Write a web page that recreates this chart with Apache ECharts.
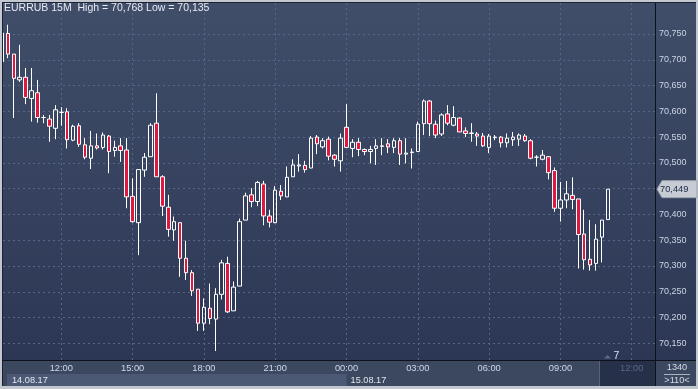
<!DOCTYPE html>
<html><head><meta charset="utf-8">
<script src="https://cdn.jsdelivr.net/npm/echarts@6/dist/echarts.min.js"></script>
<style>html,body{margin:0;padding:0;background:#2c3654}#c{width:698px;height:389px}</style>
</head><body><div id="c"></div>
<script>
// ---- data (15-minute bars, 14.08.17 09:30 -> 15.08.17 11:00) ----
const times = ['09:30','09:45','10:00','10:15','10:30','10:45','11:00','11:15','11:30','11:45',
 '12:00','12:15','12:30','12:45','13:00','13:15','13:30','13:45','14:00','14:15','14:30','14:45',
 '15:00','15:15','15:30','15:45','16:00','16:15','16:30','16:45','17:00','17:15','17:30','17:45',
 '18:00','18:15','18:30','18:45','19:00','19:15','19:30','19:45','20:00','20:15','20:30','20:45',
 '21:00','21:15','21:30','21:45','22:00','22:15','22:30','22:45','23:00','23:15','23:30','23:45',
 '00:00','00:15','00:30','00:45','01:00','01:15','01:30','01:45','02:00','02:15','02:30','02:45',
 '03:00','03:15','03:30','03:45','04:00','04:15','04:30','04:45','05:00','05:15','05:30','05:45',
 '06:00','06:15','06:30','06:45','07:00','07:15','07:30','07:45','08:00','08:15','08:30','08:45',
 '09:00','09:15','09:30','09:45','10:00','10:15','10:30','10:45','11:00'];
const opens = [70.696,70.751,70.711,70.661,70.666,70.625,70.636,70.588,70.585,70.567,
 70.598,70.599,70.544,70.572,70.535,70.509,70.533,70.530,70.552,70.524,70.533,70.525,
 70.435,70.384,70.486,70.512,70.577,70.473,70.414,70.370,70.384,70.315,70.287,70.255,
 70.189,70.218,70.197,70.245,70.305,70.213,70.261,70.389,70.438,70.425,70.459,70.397,
 70.384,70.445,70.434,70.473,70.494,70.495,70.490,70.550,70.531,70.546,70.515,70.504,
 70.569,70.528,70.540,70.526,70.522,70.528,70.532,70.537,70.530,70.543,70.517,70.520,
 70.522,70.576,70.620,70.575,70.556,70.595,70.573,70.587,70.562,70.557,70.556,70.552,
 70.530,70.549,70.550,70.539,70.545,70.546,70.552,70.543,70.511,70.507,70.512,70.485,
 70.412,70.428,70.437,70.430,70.362,70.313,70.305,70.356,70.390];
const closes = [70.752,70.711,70.664,70.666,70.627,70.640,70.588,70.588,70.571,70.603,
 70.598,70.545,70.571,70.536,70.511,70.533,70.529,70.554,70.522,70.530,70.524,70.434,
 70.386,70.487,70.511,70.573,70.473,70.416,70.371,70.386,70.315,70.287,70.252,70.189,
 70.220,70.198,70.245,70.306,70.211,70.259,70.386,70.436,70.425,70.462,70.397,70.385,
 70.447,70.436,70.472,70.496,70.496,70.487,70.548,70.537,70.543,70.513,70.507,70.548,
 70.530,70.540,70.526,70.522,70.526,70.533,70.533,70.531,70.543,70.517,70.519,70.521,
 70.575,70.620,70.576,70.554,70.593,70.577,70.588,70.560,70.557,70.558,70.552,70.533,
 70.552,70.550,70.539,70.548,70.550,70.554,70.543,70.509,70.511,70.515,70.481,70.412,
 70.428,70.440,70.429,70.361,70.312,70.302,70.352,70.389,70.449];
const lows = [70.696,70.703,70.587,70.657,70.614,70.580,70.578,70.577,70.541,70.546,
 70.572,70.528,70.542,70.531,70.507,70.488,70.526,70.526,70.480,70.512,70.502,70.412,
 70.384,70.321,70.473,70.512,70.473,70.397,70.357,70.349,70.279,70.273,70.242,70.174,
 70.174,70.187,70.135,70.235,70.209,70.213,70.261,70.389,70.414,70.416,70.379,70.375,
 70.383,70.428,70.434,70.473,70.483,70.481,70.490,70.517,70.528,70.505,70.493,70.483,
 70.530,70.511,70.513,70.515,70.499,70.496,70.515,70.519,70.519,70.496,70.499,70.489,
 70.522,70.554,70.552,70.548,70.552,70.573,70.571,70.560,70.550,70.541,70.533,70.531,
 70.519,70.544,70.530,70.530,70.533,70.533,70.541,70.507,70.493,70.505,70.468,70.405,
 70.386,70.412,70.410,70.295,70.293,70.291,70.291,70.307,70.390];
const highs = [70.752,70.768,70.711,70.729,70.684,70.684,70.661,70.593,70.593,70.612,
 70.608,70.606,70.574,70.577,70.548,70.562,70.557,70.559,70.554,70.543,70.548,70.548,
 70.470,70.487,70.519,70.577,70.635,70.476,70.438,70.396,70.384,70.349,70.292,70.255,
 70.237,70.266,70.257,70.312,70.318,70.270,70.392,70.442,70.451,70.465,70.465,70.409,
 70.455,70.457,70.493,70.507,70.517,70.504,70.552,70.554,70.548,70.551,70.517,70.557,
 70.614,70.546,70.548,70.528,70.533,70.546,70.548,70.546,70.548,70.548,70.548,70.528,
 70.580,70.623,70.622,70.582,70.596,70.612,70.610,70.588,70.569,70.577,70.560,70.558,
 70.556,70.554,70.552,70.557,70.560,70.557,70.556,70.546,70.515,70.525,70.513,70.491,
 70.463,70.465,70.472,70.430,70.409,70.389,70.381,70.389,70.449];
const timeTicks = ['12:00','15:00','18:00','21:00','00:00','03:00','06:00','09:00','12:00'];
const priceTicks = [70.15, 70.75];           // first / last labelled price, step 0.05
const dateLabels = ['14.08.17', '15.08.17'];
const symbolName = 'EURRUB 15M';

// ---- layout ----
const W = 698, H = 389;
const PL = 3, PR = 655, PT = 3, PB = 360;
const SLOT = 5.942;           // px per 15-minute slot
const X12 = 61.3;             // px of first 12:00 slot
const FIRST_TICK_SLOT = 10;   // index of 12:00 in times
const PX_PER_STEP = 25.775;   // px per 0.05
const Y_TOP_LBL = 34, Y_BOT_LBL = 343.3;
const STEP = 0.05;
const TICK_SLOTS = 12;        // 3 hours

const xMinA = FIRST_TICK_SLOT - (X12 - PL) / SLOT;
const xMaxA = FIRST_TICK_SLOT + (PR - X12) / SLOT;
const yMaxA = priceTicks[1] + (Y_TOP_LBL - PT) / PX_PER_STEP * STEP;
const yMinA = priceTicks[1] - (PB - Y_TOP_LBL) / PX_PER_STEP * STEP;
const lastTick = (timeTicks.length - 1) * TICK_SLOTS;

const rows = times.map((t, i) => [i, opens[i], closes[i], lows[i], highs[i]]);
const hi = Math.max.apply(null, highs), lo = Math.min.apply(null, lows);
const fmt = v => v.toFixed(3).replace('.', ',');

const FAM = 'Liberation Sans';
const gridColor = '#56658a';

const chart = echarts.init(document.getElementById('c'), null, {renderer: 'canvas', width: W, height: H});

const option = {
  animation: false,
  backgroundColor: new echarts.graphic.LinearGradient(0, 0, 0, 1, [
    {offset: 0, color: '#404e69'}, {offset: 1, color: '#2b3553'}]),
  grid: [
    {left: PL, top: PT, width: PR - PL, height: PB - PT},
    {left: X12, top: PT, width: lastTick * SLOT, height: PB - PT},
    {left: PL, top: Y_TOP_LBL, width: PR - PL, height: Y_BOT_LBL - Y_TOP_LBL}
  ],
  xAxis: [
    {gridIndex: 0, type: 'value', min: xMinA, max: xMaxA, show: false},
    {gridIndex: 1, type: 'value', min: 0, max: lastTick, interval: TICK_SLOTS,
     axisLine: {show: false}, axisTick: {show: false},
     splitLine: {show: true, lineStyle: {color: gridColor, type: [2, 3], width: 1}},
     axisLabel: {margin: 4, fontSize: 9.3, fontFamily: FAM, showMinLabel: true, showMaxLabel: true,
       color: (v) => (+v === lastTick ? '#5c6884' : '#cdd8ec'),
       formatter: (v) => timeTicks[Math.round(v / TICK_SLOTS)] || ''}},
    {gridIndex: 2, type: 'value', show: false, min: 0, max: 1}
  ],
  yAxis: [
    {gridIndex: 0, type: 'value', min: yMinA, max: yMaxA, show: false, scale: true},
    {gridIndex: 1, type: 'value', min: 0, max: 1, show: false},
    {gridIndex: 2, type: 'value', position: 'right', min: priceTicks[0], max: priceTicks[1], interval: STEP,
     axisLine: {show: false}, axisTick: {show: false},
     splitLine: {show: true, lineStyle: {color: gridColor, type: [2, 3], width: 1}},
     axisLabel: {margin: 4, fontSize: 9, fontFamily: FAM, color: '#ccd4e3', formatter: fmt}}
  ],
  series: [{
    type: 'candlestick', xAxisIndex: 0, yAxisIndex: 0,
    data: rows, encode: {x: 0, y: [1, 2, 3, 4]},
    barWidth: 4, clip: true,
    itemStyle: {color: 'rgba(0,0,0,0)', color0: '#e0173f', borderColor: '#ffffff',
                borderColor0: '#ffffff', borderColorDoji: '#ffffff', borderWidth: 1}
  }]
};
chart.setOption(option);

// ---- decorations positioned from the axes ----
const xMid = chart.convertToPixel({xAxisIndex: 1}, 4 * TICK_SLOTS);   // 00:00 on second day
const lastClose = closes[closes.length - 1];
const yTag = chart.convertToPixel({yAxisIndex: 0}, lastClose);

function txt(x, y, text, size, fill, align) {
  return {type: 'text', z: 70, x: x, y: y,
    style: {text: text, fill: fill, fontSize: size, fontFamily: FAM,
            align: align || 'left', verticalAlign: 'middle'}};
}

const g = [];
// bottom strips
g.push({type: 'rect', z: -5, shape: {x: 0, y: 361, width: W, height: 26}, style: {fill: '#3c4860'}});
g.push({type: 'rect', z: -4, shape: {x: 7, y: 374, width: xMid - 7, height: 12}, style: {fill: '#4b5975'}});
g.push({type: 'rect', z: -4, shape: {x: 600, y: 361, width: PR - 600, height: 25}, style: {fill: '#263049'}});
g.push({type: 'rect', z: -3, shape: {x: 599, y: 361, width: 1, height: 25}, style: {fill: '#58637c'}});
// frame
g.push({type: 'rect', z: 60, shape: {x: 0, y: 0, width: W, height: 2}, style: {fill: '#c3c7cf'}});
g.push({type: 'rect', z: 60, shape: {x: 0, y: 2, width: W, height: 1}, style: {fill: '#1b2130'}});
g.push({type: 'rect', z: 60, shape: {x: 0, y: 0, width: 2, height: H}, style: {fill: '#c3c7cf'}});
g.push({type: 'rect', z: 60, shape: {x: 2, y: 2, width: 1, height: 384}, style: {fill: '#1b2130'}});
g.push({type: 'rect', z: 60, shape: {x: W - 2, y: 0, width: 2, height: H}, style: {fill: '#c3c7cf'}});
g.push({type: 'rect', z: 60, shape: {x: 0, y: 386, width: W, height: 3}, style: {fill: '#c3c7cf'}});
g.push({type: 'rect', z: 60, shape: {x: 3, y: PB, width: W - 5, height: 1}, style: {fill: '#0d1119'}});
g.push({type: 'rect', z: 60, shape: {x: PR, y: 3, width: 1, height: 383}, style: {fill: '#0d1119'}});
// title
g.push(txt(4, 8.5, symbolName + '  High = ' + fmt(hi) + ' Low = ' + fmt(lo), 10.5, '#e6eaf2'));
// dates
g.push(txt(12, 380, dateLabels[0], 9.2, '#e2e7f0'));
g.push(txt(xMid + 4, 380, dateLabels[1], 9.2, '#e2e7f0'));
// right-bottom box
g.push(txt(677, 367.5, '1340', 9.2, '#d4dbe8', 'center'));
g.push({type: 'rect', z: 70, shape: {x: 664, y: 374, width: 26, height: 1}, style: {fill: '#aab3c4'}});
g.push(txt(677, 380, '>110<', 9.2, '#d4dbe8', 'center'));
// small marker
g.push({type: 'polygon', z: 70, shape: {points: [[604, 358.5], [611, 358.5], [607.5, 355]]}, style: {fill: '#5e6a82'}});
g.push(txt(613.5, 356, '7', 10.5, '#d4e0f2'));
// last price tag
g.push({type: 'polygon', z: 70, shape: {points: [[657, yTag], [662, yTag - 8.5], [697, yTag - 8.5], [697, yTag + 8.5], [662, yTag + 8.5]]},
  style: {fill: '#c7cbd3', stroke: '#9da4b2', lineWidth: 1}});
const tag = txt(660, yTag, fmt(lastClose), 9.3, '#1d2a48'); tag.z = 71;
g.push(tag);

chart.setOption({graphic: {elements: g}});
</script>
</body></html>
